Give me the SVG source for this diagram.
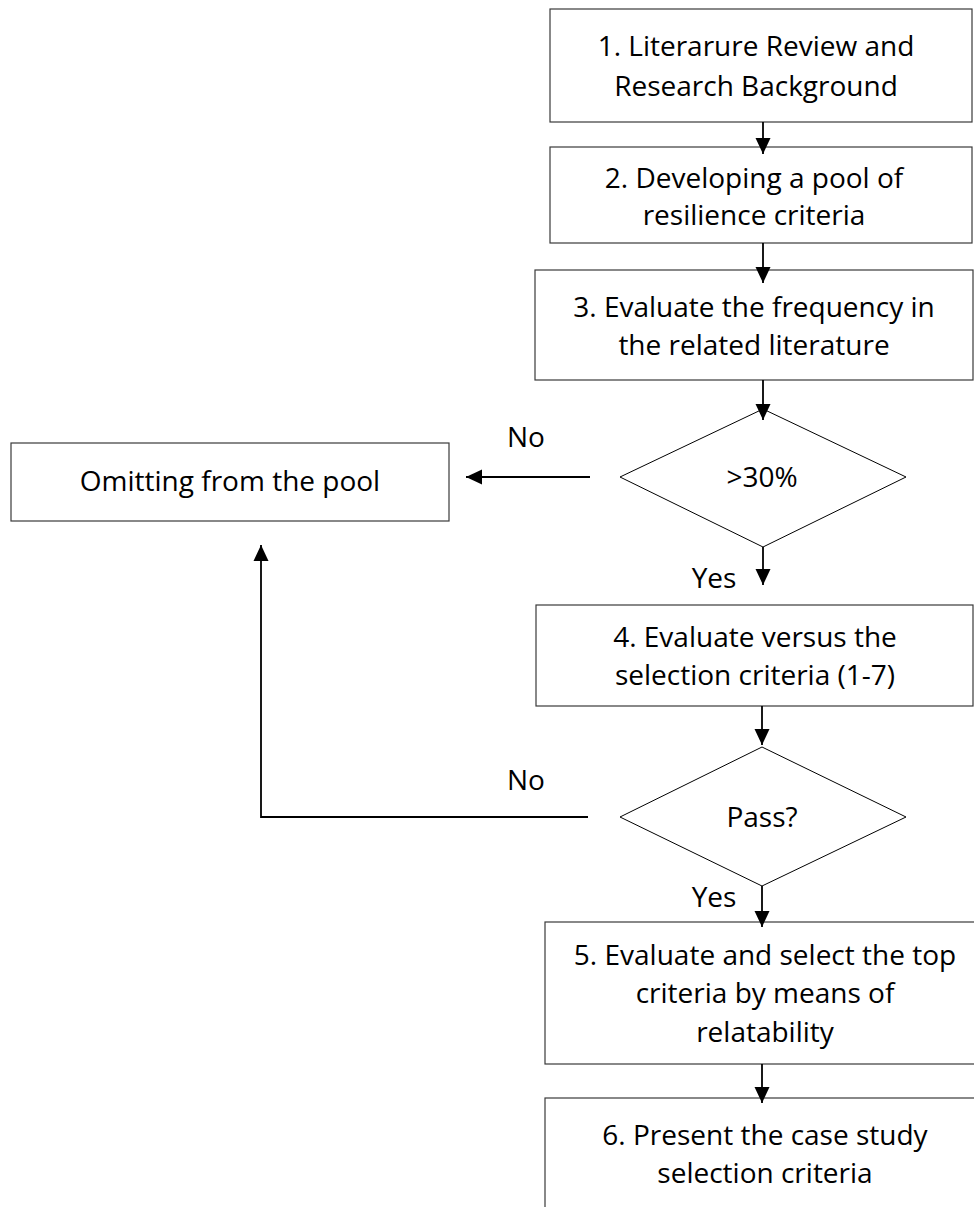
<svg xmlns="http://www.w3.org/2000/svg" width="974" height="1207" viewBox="0 0 974 1207">
<defs>
<style>
.box{fill:#fff;stroke:#3a3a3a;stroke-width:1.2}
.dia{fill:#fff;stroke:#000;stroke-width:1}
.t{font-family:"Open Sans","Noto Sans","Liberation Sans",sans-serif;font-size:28px;fill:#000;text-anchor:middle}
.c{fill:none;stroke:#000;stroke-width:1.8}
</style>
<marker id="ah" markerUnits="userSpaceOnUse" viewBox="0 0 16 16" markerWidth="16" markerHeight="16" refX="16" refY="8" orient="auto">
<path d="M0,0.5 L16,8 L0,15.5 Z" fill="#000"/>
</marker>
</defs>
<rect width="974" height="1207" fill="#fff"/>
<g id="n1"><rect class="box" x="550" y="9" width="422" height="113"/>
<text class="t" x="756" y="56">1. Literarure Review and</text><text class="t" x="756" y="96">Research Background</text></g>
<g id="n2"><rect class="box" x="550" y="147" width="422" height="96"/>
<text class="t" x="754" y="188">2. Developing a pool of</text><text class="t" x="754" y="225">resilience criteria</text></g>
<g id="n3"><rect class="box" x="535" y="270" width="438" height="110"/>
<text class="t" x="754" y="317">3. Evaluate the frequency in</text><text class="t" x="754" y="355">the related literature</text></g>
<g id="d1"><polygon class="dia" points="763,409 906,477 763,547 620,477"/>
<text class="t" x="762" y="487">&gt;30%</text></g>
<g id="n7"><rect class="box" x="11" y="443" width="438" height="78"/>
<text class="t" x="230" y="491">Omitting from the pool</text></g>
<g id="n4"><rect class="box" x="536" y="605" width="437" height="101"/>
<text class="t" x="755" y="647">4. Evaluate versus the</text><text class="t" x="755" y="685">selection criteria (1-7)</text></g>
<g id="d2"><polygon class="dia" points="762,747 906,817 762,886 620,817"/>
<text class="t" x="762" y="827">Pass?</text></g>
<g id="n5"><rect class="box" x="545" y="922" width="440" height="142"/>
<text class="t" x="765" y="965">5. Evaluate and select the top</text><text class="t" x="765" y="1003">criteria by means of</text><text class="t" x="765" y="1042">relatability</text></g>
<g id="n6"><rect class="box" x="545" y="1098" width="440" height="130"/>
<text class="t" x="765" y="1145">6. Present the case study</text><text class="t" x="765" y="1183">selection criteria</text></g>
<g id="connectors">
<line class="c" x1="763" y1="122" x2="763" y2="154" marker-end="url(#ah)"/>
<line class="c" x1="763" y1="243" x2="763" y2="283" marker-end="url(#ah)"/>
<line class="c" x1="763" y1="380" x2="763" y2="420" marker-end="url(#ah)"/>
<line class="c" x1="590" y1="477" x2="466" y2="477" marker-end="url(#ah)"/>
<line class="c" x1="763" y1="547" x2="763" y2="585" marker-end="url(#ah)"/>
<line class="c" x1="762" y1="706" x2="762" y2="745" marker-end="url(#ah)"/>
<polyline class="c" points="588,817 261,817 261,545" marker-end="url(#ah)"/>
<line class="c" x1="762" y1="886" x2="762" y2="927" marker-end="url(#ah)"/>
<line class="c" x1="762" y1="1064" x2="762" y2="1103" marker-end="url(#ah)"/>
</g>
<g id="labels">
<text class="t" x="526" y="447">No</text>
<text class="t" x="714" y="588">Yes</text>
<text class="t" x="526" y="790">No</text>
<text class="t" x="714" y="907">Yes</text>
</g>
</svg>
